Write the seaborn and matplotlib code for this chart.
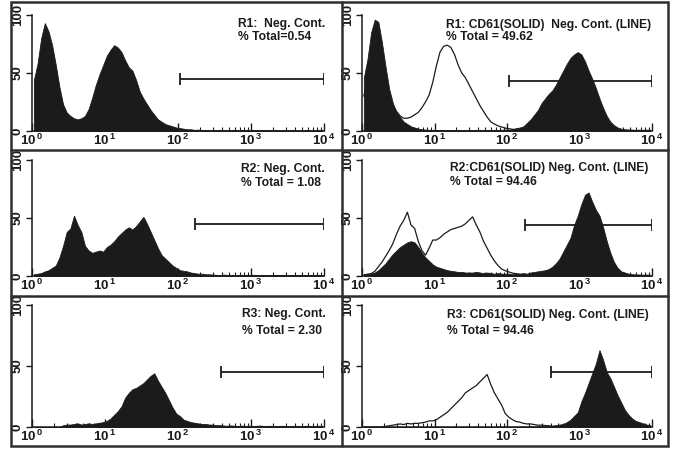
import numpy as np
import pandas as pd
import matplotlib
matplotlib.use("Agg")
import matplotlib.pyplot as plt
import seaborn as sns
from matplotlib.lines import Line2D
from matplotlib.patches import Rectangle

# ---------------- data ----------------
# histogram channels: 80 bins of 0.05 decade between 10^0 and 10^4
bin_edges_log = np.arange(81) * 0.05
bin_centres_log = bin_edges_log[:-1] + 0.025

r1_neg = [44, 58, 80, 93, 86, 74, 57, 38, 23, 16,
          13, 11, 10, 11, 13, 19, 29, 40, 49, 57,
          65, 70, 74, 72, 68, 61, 55, 52, 44, 34,
          28, 23, 18, 14, 10, 8, 6, 5, 4, 3,
          2.5, 2, 1.5, 1.5, 1, 1.2, 0.8, 1, 0.7, 0.9,
          0.8, 1, 0.6, 0.9, 0.7, 1, 0.5, 0.8, 0.9, 0.6,
          0.7, 0.8, 0.5, 0.9, 0.6, 0.7, 1, 0.5, 0.6, 0.8,
          0.6, 0.9, 0.5, 0.7, 0.6, 0.8, 0.5, 0.7, 0.9, 0.6]

r1_cd61 = [46, 62, 85, 96, 94, 76, 55, 36, 24, 16,
           12, 8, 6, 4, 3, 2, 1.5, 1.2, 1, 1,
           0.8, 1, 0.7, 0.9, 0.8, 0.6, 1, 0.7, 0.8, 0.9,
           0.6, 0.8, 1, 0.7, 0.9, 0.8, 1, 0.9, 1.1, 1.2,
           1.2, 1.5, 2.5, 3, 4, 7, 10, 14, 18, 24,
           28, 32, 35, 40, 46, 52, 58, 63, 66, 68,
           66, 60, 52, 45, 37, 28, 20, 13, 8, 5,
           3, 2, 1.5, 1.2, 1, 0.8, 1, 0.7, 0.8, 0.6]

r1_neg_line = [30, 45, 60, 70, 68, 55, 40, 28, 22, 17,
               13, 11, 11, 12, 14, 16, 20, 25, 31, 42,
               56, 68, 73, 74, 72, 66, 57, 50, 46, 40,
               34, 28, 22, 17, 12, 8, 6, 4.5, 3.5, 2.5,
               2, 1.5, 1.2, 1, 0.6, 0.5, 0.7, 0.4, 0.6, 0.5,
               0.4, 0.6, 0.5, 0.4, 0.5, 0.6, 0.4, 0.5, 0.4, 0.6,
               0.5, 0.4, 0.6, 0.5, 0.4, 0.5, 0.6, 0.4, 0.5, 0.4,
               0.6, 0.5, 0.4, 0.5, 0.6, 0.4, 0.5, 0.4, 0.5, 0.6]

r2_neg = [1.5, 2, 2.5, 4, 5, 7, 9, 16, 26, 38,
          41, 52, 44, 38, 26, 22, 20, 21, 22, 21,
          25, 27, 30, 34, 37, 40, 42, 40, 43, 47,
          51, 45, 38, 31, 24, 18, 15, 12, 9, 7,
          5, 4.5, 4, 3, 2.5, 2, 2, 1.5, 1.5, 1.2,
          1, 0.8, 1.2, 0.9, 1, 0.8, 0.7, 1, 0.9, 0.8,
          1.1, 0.7, 0.9, 1, 0.8, 0.7, 0.9, 0.8, 1, 0.7,
          0.8, 0.9, 0.7, 1, 0.8, 0.9, 0.7, 0.8, 1, 0.9]

r2_cd61 = [1.5, 2, 2, 3, 5, 8, 11, 15, 19, 22,
           25, 27, 29, 30, 29, 25, 20, 16, 13, 10,
           8, 7, 6, 5, 4.5, 4, 3.5, 3.5, 3, 3,
           3, 3.5, 3, 2.5, 3, 2.5, 2, 2.5, 2, 2,
           2, 1.5, 2, 2, 2.5, 2, 3, 3.5, 4, 4.5,
           5, 6, 8, 11, 15, 21, 27, 33, 44, 52,
           62, 70, 72, 64, 57, 52, 42, 30, 20, 12,
           7, 4, 3, 2, 1.5, 1.2, 1, 0.8, 1, 0.7]

r2_neg_line = [1, 1.5, 2, 4, 8, 12, 17, 22, 28, 36,
               43, 48, 55, 44, 41, 30, 22, 18, 24, 31,
               31, 33, 36, 38, 40, 41, 42, 43, 45, 48,
               51, 44, 38, 30, 24, 18, 13, 9, 6, 4.5,
               3.5, 2.5, 2, 1.5, 1, 0.8, 0.9, 0.7, 0.8, 0.6,
               0.7, 0.8, 0.6, 0.7, 0.5, 0.7, 0.6, 0.8, 0.6, 0.7,
               0.5, 0.6, 0.7, 0.5, 0.6, 0.7, 0.5, 0.6, 0.5, 0.7,
               0.6, 0.5, 0.7, 0.6, 0.5, 0.6, 0.7, 0.5, 0.6, 0.5]

r3_neg = [0, 0, 0, 0, 0, 0, 0, 0, 1.5, 2,
          2, 2.5, 3, 2, 2.5, 3, 2.5, 3, 3.5, 4,
          5, 7, 10, 13, 17, 24, 28, 31, 32, 34,
          36, 39, 42, 44, 38, 33, 28, 22, 16, 11,
          9, 6, 5, 4, 3.5, 3, 2.5, 2.5, 2, 2,
          1.5, 1.5, 1.2, 1, 1.3, 1, 0.8, 1.1, 0.9, 1,
          0.8, 1, 1.2, 0.8, 0.9, 1, 0.7, 0.9, 1, 0.8,
          0.9, 0.7, 1, 0.8, 0.9, 1, 0.7, 0.8, 1, 0.9]

r3_cd61 = [0, 0, 0, 0, 0, 0, 0, 0, 0, 0,
           0, 0, 0, 0, 0, 0, 0, 0, 0, 0,
           0.3, 0, 0.3, 0, 0, 0.3, 0, 0, 0.3, 0,
           0, 0.3, 0, 0, 0.3, 0, 0, 0.3, 0, 0.3,
           0, 0.3, 0, 0.3, 0.4, 0.3, 0.5, 0.4, 0.5, 0.6,
           0.5, 1, 1, 1.5, 2, 2.5, 4, 6, 9, 12,
           21, 28, 36, 44, 52, 63, 55, 45, 40, 33,
           26, 20, 14, 10, 7, 5, 4, 3, 2, 1.5]

r3_neg_line = [0, 0, 0, 0, 0, 0, 0.5, 1, 1.5, 2,
               2.5, 2, 3, 2.5, 3, 3, 3.5, 4, 5, 5,
               6, 8, 10, 12, 15, 18, 21, 24, 28, 30,
               32, 34, 37, 40, 43, 35, 28, 23, 18, 11,
               8, 6, 4.5, 4, 3, 2.5, 2.5, 2, 1.5, 1.5,
               1.2, 1, 0.6, 0.5, 0.7, 0.4, 0.6, 0.5, 0.4, 0.6,
               0.5, 0.4, 0.6, 0.5, 0.4, 0.5, 0.6, 0.4, 0.5, 0.4,
               0.6, 0.5, 0.4, 0.5, 0.6, 0.4, 0.5, 0.4, 0.5, 0.6]

# gate markers (start, end on the fluorescence axis, height)
gate_start = [105, 105, 170, 178, 390, 400]
gate_end = [10000, 10000, 10000, 10000, 10000, 10000]
gate_y = [45, 43, 45, 44, 45, 45]

title_line1 = ["R1:  Neg. Cont.", "R1: CD61(SOLID)  Neg. Cont. (LINE)",
               "R2: Neg. Cont.", "R2:CD61(SOLID) Neg. Cont. (LINE)",
               "R3: Neg. Cont.", "R3: CD61(SOLID) Neg. Cont. (LINE)"]
title_line2 = ["% Total=0.54", "% Total = 49.62",
               "% Total = 1.08", "% Total = 94.46",
               "% Total = 2.30", "% Total = 94.46"]

solid_series = [r1_neg, r1_cd61, r2_neg, r2_cd61, r3_neg, r3_cd61]
line_series = [None, r1_neg_line, None, r2_neg_line, None, r3_neg_line]

x_ticks = [1, 10, 100, 1000, 10000]
x_ticklabels = [r"$10^{\,0}$", r"$10^{\,1}$", r"$10^{\,2}$", r"$10^{\,3}$", r"$10^{\,4}$"]
y_ticks = [0, 50, 100]
y_ticklabels = ["0", "50", "100"]

# ---------------- style ----------------
sns.set_theme(style="white")
plt.rcParams["font.family"] = ["Liberation Sans", "DejaVu Sans"]
plt.rcParams["font.weight"] = "bold"
plt.rcParams["mathtext.fontset"] = "custom"
plt.rcParams["mathtext.rm"] = "Liberation Sans:bold"
plt.rcParams["mathtext.it"] = "Liberation Sans:bold"
plt.rcParams["mathtext.bf"] = "Liberation Sans:bold"

W, H = 673, 449
fig = plt.figure(figsize=(W / 100, H / 100), dpi=100)
fig.patch.set_facecolor("white")

ink = "#1b1b1b"
frame = "#2e2e2e"

# pixel geometry of plotting areas: (x0, x1, y_top(100), y_bottom(0))
cols = [(32, 324), (362, 652)]
rows = [(15, 131), (160, 276), (305, 427)]
text_pos = [(238, 24, 37.5), (446, 25, 37.5),
            (241, 169, 182.5), (450, 168, 182),
            (242, 314, 331), (447, 315, 331)]

edges_lin = [float(v) for v in 10 ** bin_edges_log]
centres_lin = 10 ** bin_centres_log

for k in range(6):
    r, c = divmod(k, 2)
    x0, x1 = cols[c]
    yt, yb = rows[r]
    ax = fig.add_axes([x0 / W, 1 - yb / H, (x1 - x0) / W, (yb - yt) / H])
    ax.set_facecolor("none")

    df = pd.DataFrame({"fl": centres_lin, "count": solid_series[k]})
    sns.histplot(data=df, x="fl", weights="count", bins=edges_lin,
                 element="poly", fill=True, color=ink, alpha=1.0,
                 linewidth=0.6, edgecolor=ink, ax=ax)
    if line_series[k] is not None:
        dfl = pd.DataFrame({"fl": centres_lin, "count": line_series[k]})
        sns.histplot(data=dfl, x="fl", weights="count", bins=edges_lin,
                     element="poly", fill=False, color=ink,
                     linewidth=0.9, ax=ax)

    # gate marker
    ax.hlines(gate_y[k], gate_start[k], gate_end[k], color=ink, lw=1.3)
    ax.vlines([gate_start[k], gate_end[k]], gate_y[k] - 5, gate_y[k] + 5,
              color=ink, lw=1.3)

    ax.set_xscale("log")
    ax.set_xlim(1, 10000)
    ax.set_ylim(0, 100)
    ax.set_xlabel("")
    ax.set_ylabel("")
    for s in ["top", "right"]:
        ax.spines[s].set_visible(False)
    for s in ["left", "bottom"]:
        ax.spines[s].set_color(ink)
        ax.spines[s].set_linewidth(1.1)
    ax.set_xticks(x_ticks)
    ax.set_xticklabels(x_ticklabels)
    ax.xaxis.set_minor_locator(matplotlib.ticker.LogLocator(base=10, subs=np.arange(2, 10)))
    ax.xaxis.set_minor_formatter(matplotlib.ticker.NullFormatter())
    ax.set_yticks(y_ticks)
    ax.set_yticklabels(y_ticklabels, rotation=90, va="center")
    ax.tick_params(axis="x", which="major", direction="in", length=6, width=1.0,
                   color=ink, labelsize=9.5, pad=1, labelcolor=ink, bottom=True)
    ax.tick_params(axis="x", which="minor", direction="in", length=3, width=0.8,
                   color=ink, bottom=True)
    ax.tick_params(axis="y", which="major", direction="out", length=4, width=1.0,
                   color=ink, labelsize=9.5, pad=2, labelcolor=ink, left=True)

    tx, ty1, ty2 = text_pos[k]
    fig.text(tx / W, 1 - ty1 / H, title_line1[k], fontsize=8.7, fontweight="bold",
             color=ink, ha="left", va="center")
    fig.text(tx / W, 1 - ty2 / H, title_line2[k], fontsize=8.7, fontweight="bold",
             color=ink, ha="left", va="center")

# panel frames
fig.add_artist(Rectangle((11 / W, 1 - 446 / H), (668 - 11) / W, (446 - 2) / H,
                         transform=fig.transFigure, fill=False, lw=1.8, ec=frame))
fig.add_artist(Line2D([342 / W, 342 / W], [1 - 446 / H, 1 - 2 / H],
                      transform=fig.transFigure, lw=1.8, color=frame))
for yy in [150, 296]:
    fig.add_artist(Line2D([11 / W, 668 / W], [1 - yy / H, 1 - yy / H],
                          transform=fig.transFigure, lw=1.8, color=frame))

fig.savefig("out.png", dpi=100, facecolor="white")
